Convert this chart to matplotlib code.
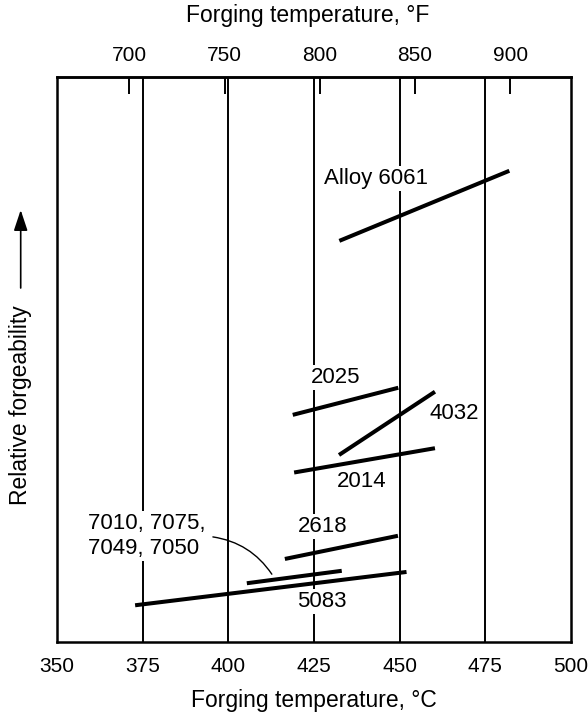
import matplotlib
matplotlib.use("Agg")
import matplotlib.pyplot as plt

plt.rcParams['font.family'] = ['Liberation Sans', 'DejaVu Sans']
NARROW = ['Liberation Sans Narrow', 'Liberation Sans', 'DejaVu Sans']

# forging ranges (relative forgeability in arbitrary units 0-100)
alloys = ['Alloy 6061', '2025', '4032', '2014', '2618', '7010, 7075,\n7049, 7050', '5083']
t_start = [432.4, 418.8, 432.3, 419.2, 416.5, 405.4, 372.8]
t_end = [482.0, 449.6, 460.3, 460.3, 449.5, 433.1, 452.0]
f_start = [71.0, 40.2, 33.1, 30.0, 14.7, 10.4, 6.5]
f_end = [83.4, 45.0, 44.3, 34.3, 18.8, 12.6, 12.4]

c_ticks = [350, 375, 400, 425, 450, 475, 500]
f_ticks = [700, 750, 800, 850, 900]
grid_c = [375, 400, 425, 450, 475]

# where each alloy name sits (x, y, horizontal alignment)
label_pos = [(427.9, 82.1, 'left'), (431.4, 46.9, 'center'), (458.8, 40.4, 'left'),
             (438.9, 28.4, 'center'), (427.6, 20.4, 'center'), (359.0, 18.8, 'left'),
             (427.3, 7.1, 'center')]

fig = plt.figure(figsize=(5.88, 7.17), dpi=100)
ax = fig.add_axes([0.0969, 0.1046, 0.8742, 0.788])

ax.set_xlim(350, 500)
ax.set_ylim(0, 100)

for g in grid_c:
    ax.axvline(g, color='black', lw=1.4, zorder=1)

for i in range(len(alloys)):
    ax.plot([t_start[i], t_end[i]], [f_start[i], f_end[i]], color='black', lw=2.9,
            solid_capstyle='butt', zorder=3)
    x, y, ha = label_pos[i]
    ax.text(x, y, alloys[i], ha=ha, va='center', fontsize=16, zorder=2,
            linespacing=1.25,
            bbox=dict(facecolor='white', edgecolor='none', pad=1.5))

# leader line for the 7xxx group
ax.annotate('', xy=(412.7, 12.0), xytext=(395.5, 18.6), zorder=2,
            arrowprops=dict(arrowstyle='-', lw=1.0, color='black',
                            connectionstyle='arc3,rad=-0.22',
                            shrinkA=0, shrinkB=0))

ax.set_xticks(c_ticks)
ax.set_yticks([])
ax.tick_params(axis='x', length=0, pad=11, labelsize=15)
for lab in ax.get_xticklabels():
    lab.set_family(NARROW)
for s in ax.spines.values():
    s.set_linewidth(1.8)


def c2f(c):
    return c * 9 / 5 + 32


def f2c(f):
    return (f - 32) * 5 / 9


secax = ax.secondary_xaxis('top', functions=(c2f, f2c))
secax.set_xticks(f_ticks)
secax.tick_params(direction='in', length=12, width=1.4, pad=9, labelsize=15)
secax.spines['top'].set_linewidth(1.8)
for lab in secax.get_xticklabels():
    lab.set_family(NARROW)

fig.text(0.534, 0.0237, 'Forging temperature, \u00b0C', ha='center', va='center', fontsize=16.5)
fig.text(0.524, 0.978, 'Forging temperature, \u00b0F', ha='center', va='center', fontsize=16.5)

fig.text(0.035, 0.4344, 'Relative forgeability', rotation=90, ha='center', va='center',
         fontsize=16.5)
fig.add_artist(matplotlib.patches.FancyArrowPatch(
    (0.0352, 1 - 288 / 717), (0.0352, 1 - 210 / 717), transform=fig.transFigure,
    arrowstyle='-|>,head_length=0.9,head_width=0.3', mutation_scale=14,
    lw=1.2, color='black', shrinkA=0, shrinkB=0))

fig.savefig('out.png', dpi=100)
